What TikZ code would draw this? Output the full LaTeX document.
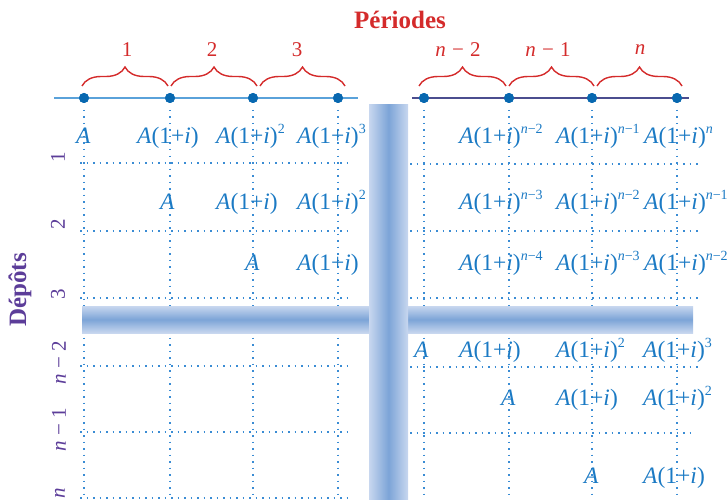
\documentclass[tikz,border=0pt]{standalone}
\usepackage{fontspec}
\setmainfont{Liberation Serif}
\usetikzlibrary{decorations.pathreplacing}
\definecolor{txtblue}{HTML}{1B7AC4}
\definecolor{dotblue}{HTML}{0868B0}
\definecolor{gridblue}{HTML}{3A8CD4}
\definecolor{lineleft}{HTML}{5AA2DA}
\definecolor{lineright}{HTML}{4B4D8F}
\definecolor{redtxt}{HTML}{D42B2B}
\definecolor{purpletxt}{HTML}{5C3D99}
\definecolor{barlight}{HTML}{C8D7EF}
\definecolor{bardark}{HTML}{7CA4D7}
\newcommand\myexp[1]{\raisebox{0.42em}{\fontsize{14}{14}\selectfont #1}}
\newcommand\Ap[1]{\textit{A}(1+\textit{i})\myexp{#1}}
\newcommand\An[1]{\textit{A}(1+\textit{i})\myexp{\textit{n}−#1}}
\tikzset{
  cell/.style={anchor=base west, inner sep=0pt, text=txtblue, font=\fontsize{23.5}{23.5}\selectfont},
  tdot/.style={circle, fill=dotblue, inner sep=0pt, minimum size=10pt},
  grid/.style={gridblue, line width=1.5pt, dash pattern=on 1.5pt off 5pt},
  brc/.style={redtxt, line width=1.4pt, decorate, decoration={brace, amplitude=19pt}},
  toplab/.style={text=redtxt, font=\fontsize{21}{21}\selectfont, inner sep=0pt},
  sidelab/.style={text=purpletxt, font=\fontsize{21}{21}\selectfont, inner sep=0pt, rotate=90},
}
\begin{document}
\begin{tikzpicture}[x=1pt,y=-1pt]
\useasboundingbox (0,0) rectangle (728,500);
% timeline coordinates
\coordinate (la) at (54,98);
\coordinate (lb) at (358,98);
\coordinate (ra) at (412,98);
\coordinate (rb) at (689,98);
\node[tdot] (t1) at (84,98) {};
\node[tdot] (t2) at (170,98) {};
\node[tdot] (t3) at (253,98) {};
\node[tdot] (t4) at (338,98) {};
\node[tdot] (u1) at (424,98) {};
\node[tdot] (u2) at (509,98) {};
\node[tdot] (u3) at (592,98) {};
\node[tdot] (u4) at (677,98) {};
% vertical dotted lines
\foreach \n/\x in {t1/84,t2/170,t3/253,t4/338,u1/424,u2/509,u3/592,u4/677}{
  \coordinate (\n b) at (\x,500);
  \draw[grid] ([yshift=-12pt]\n.center) -- (\n b);
}
% horizontal dotted lines
\foreach \y in {163,231,298,366,432,498}{
  \coordinate (hl\y) at (80,\y);
  \coordinate (hr\y) at (349,\y);
  \draw[grid] (hl\y) -- (hr\y);
}
\foreach \y/\e in {164/702,231/702,298/702,367/702,433/690}{
  \coordinate (gl\y) at (410,\y);
  \coordinate (gr\y) at (\e,\y);
  \draw[grid] (gl\y) -- (gr\y);
}
% cells, upper rows
\node[cell] (c11) at (76,143) {\textit{A}};
\node[cell] (c12) at (137,143) {\Ap{}};
\node[cell] (c13) at (216,143) {\Ap{2}};
\node[cell] (c14) at (297,143) {\Ap{3}};
\node[cell] (c15) at (459,143) {\An{2}};
\node[cell] (c16) at (556,143) {\An{1}};
\node[cell] (c17) at (644,143) {\Ap{\textit{n}}};
\node[cell] (c22) at (160,209) {\textit{A}};
\node[cell] (c23) at (216,209) {\Ap{}};
\node[cell] (c24) at (297,209) {\Ap{2}};
\node[cell] (c25) at (459,209) {\An{3}};
\node[cell] (c26) at (556,209) {\An{2}};
\node[cell] (c27) at (644,209) {\An{1}};
\node[cell] (c33) at (245,270) {\textit{A}};
\node[cell] (c34) at (297,270) {\Ap{}};
\node[cell] (c35) at (459,270) {\An{4}};
\node[cell] (c36) at (556,270) {\An{3}};
\node[cell] (c37) at (644,270) {\An{2}};
% cells, lower rows
\node[cell] (d11) at (414,357) {\textit{A}};
\node[cell] (d12) at (459,357) {\Ap{}};
\node[cell] (d13) at (556,357) {\Ap{2}};
\node[cell] (d14) at (643,357) {\Ap{3}};
\node[cell] (d22) at (501,405) {\textit{A}};
\node[cell] (d23) at (556,405) {\Ap{}};
\node[cell] (d24) at (643,405) {\Ap{2}};
\node[cell] (d33) at (584,483) {\textit{A}};
\node[cell] (d34) at (643,483) {\Ap{}};
% bars
\shade[top color=barlight, bottom color=barlight, middle color=bardark] (82,306) rectangle (693,333);
\shade[left color=barlight, right color=barlight, middle color=bardark] (369,105) rectangle (408,500);
% timelines
\draw[lineleft, line width=1.5pt] (la) -- (lb);
\draw[lineright, line width=1.5pt] (ra) -- (rb);
\foreach \n in {t1,t2,t3,t4,u1,u2,u3,u4}{\node[tdot] at (\n) {};}
% braces
\draw[brc] (82,86) -- (168,86);
\draw[brc] (171,86) -- (257,86);
\draw[brc] (260,86) -- (345,86);
\draw[brc] (419,86) -- (506,86);
\draw[brc] (509,86) -- (594,86);
\draw[brc] (597,86) -- (682,86);
\node[toplab] (p1) at (127,50) {1};
\node[toplab] (p2) at (212,50) {2};
\node[toplab] (p3) at (297,50) {3};
\node[toplab] (p4) at (458,50) {\textit{n}\hspace{0.3em}−\hspace{0.3em}2};
\node[toplab] (p5) at (548,50) {\textit{n}\hspace{0.3em}−\hspace{0.3em}1};
\node[toplab] (p6) at (640,50) {\textit{n}};
\node[text=redtxt, font=\fontsize{25}{25}\selectfont\bfseries, inner sep=0pt] (per) at (400,20) {Périodes};
% side labels
\node[sidelab] (s1) at (58,157) {1};
\node[sidelab] (s2) at (58,224) {2};
\node[sidelab] (s3) at (58,294) {3};
\node[sidelab] (s4) at (59,363) {\textit{n}\hspace{0.25em}−\hspace{0.25em}2};
\node[sidelab] (s5) at (59,430) {\textit{n}\hspace{0.25em}−\hspace{0.25em}1};
\node[sidelab] (s6) at (60,493) {\textit{n}};
\node[text=purpletxt, font=\fontsize{25}{25}\selectfont\bfseries, inner sep=0pt, rotate=90] (dep) at (20,290) {Dépôts};
\end{tikzpicture}
\end{document}
